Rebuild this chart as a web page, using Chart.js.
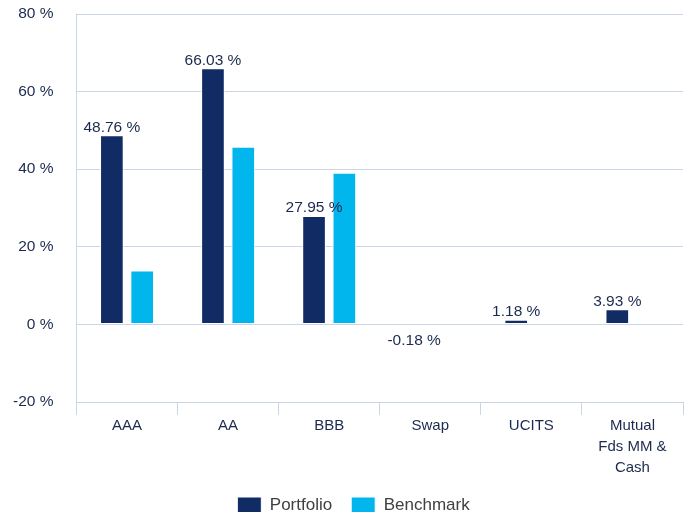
<!DOCTYPE html>
<html><head><meta charset="utf-8">
<script src="https://cdn.jsdelivr.net/npm/chart.js@4"></script>
<style>html,body{margin:0;padding:0;background:#fff;}#wrap{width:697px;height:512px;}</style>
</head><body><div id="wrap"><canvas id="c" width="697" height="512"></canvas></div>
<script>
const categories = [["AAA"],["AA"],["BBB"],["Swap"],["UCITS"],["Mutual","Fds MM &","Cash"]];
const portfolio = [48.76, 66.03, 27.95, -0.18, 1.18, 3.93];
const benchmark = [13.9, 45.8, 39.1, 0, 0, 0];
const yTicks = [-20, 0, 20, 40, 60, 80];

const navy = '#112b64', cyan = '#00b6ed', text = '#1b2a4e', grid = '#cad6e6';
const FF = '"Liberation Sans", Arial, sans-serif';

const labelPlugin = {
  id: 'valLabels',
  afterLayout(chart) {
    if (chart.legend) { chart.legend.left += 17; chart.legend.right += 17; }
  },
  afterDatasetsDraw(chart) {
    const ctx = chart.ctx;
    const meta = chart.getDatasetMeta(0);
    ctx.save();
    ctx.font = '15.5px ' + FF;
    ctx.fillStyle = text;
    ctx.textAlign = 'center';
    meta.data.forEach((bar, i) => {
      const v = portfolio[i];
      const s = v.toFixed(2) + ' %';
      if (v >= 0) { ctx.textBaseline = 'bottom'; ctx.fillText(s, bar.x, bar.y); }
      else { ctx.textBaseline = 'top'; ctx.fillText(s, bar.x - 1, bar.base + 8); }
    });
    ctx.restore();
  }
};

new Chart(document.getElementById('c'), {
  type: 'bar',
  data: {
    labels: categories,
    datasets: [
      { label: 'Portfolio', data: portfolio, backgroundColor: navy, borderColor: '#ffffff', borderWidth: 1, borderSkipped: false, categoryPercentage: 0.6, barPercentage: 0.78 },
      { label: 'Benchmark', data: benchmark, backgroundColor: cyan, borderColor: '#ffffff', borderWidth: 1, borderSkipped: false, categoryPercentage: 0.6, barPercentage: 0.78 }
    ]
  },
  options: {
    responsive: false,
    animation: false,
    devicePixelRatio: 1,
    layout: { padding: { left: -10, right: 14, top: 14, bottom: -12 } },
    plugins: {
      tooltip: { enabled: false },
      legend: {
        position: 'bottom',
        labels: { boxWidth: 24, boxHeight: 17, padding: 19, color: '#404040', font: { size: 17, family: FF } }
      }
    },
    scales: {
      x: {
        grid: { offset: true, drawOnChartArea: false, drawTicks: true, tickLength: 13, color: grid, lineWidth: 1 },
        border: { display: true, color: grid },
        ticks: { color: text, font: { size: 15, family: FF, lineHeight: 1.4 }, padding: 0, maxRotation: 0, autoSkip: false }
      },
      y: {
        min: -20, max: 80,
        afterBuildTicks(axis) { axis.ticks = yTicks.map(v => ({ value: v })); },
        afterFit(scale) { scale.paddingTop = 0; scale.paddingBottom = 0; },
        grid: { color: grid, lineWidth: 1, drawTicks: false },
        border: { display: true, color: grid },
        ticks: { color: text, padding: 23, font: { size: 15.5, family: FF }, callback: v => v + ' %' }
      }
    }
  },
  plugins: [labelPlugin]
});
</script></body></html>
